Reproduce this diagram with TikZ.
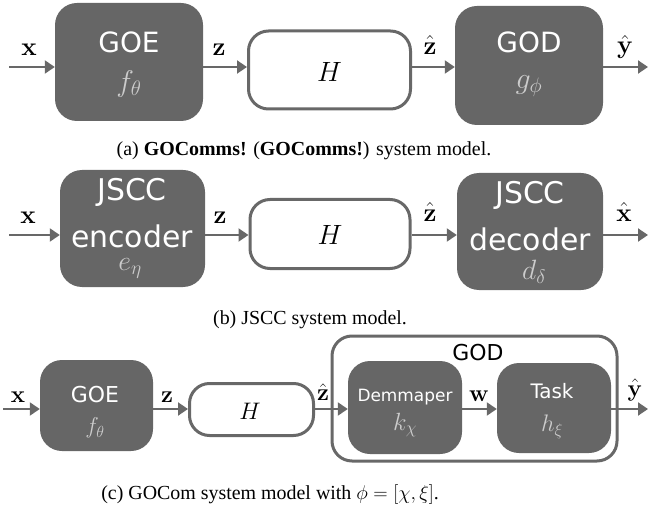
\RequirePackage{fix-cm}
\documentclass[tikz,border=0pt]{standalone}
\usepackage[no-math]{fontspec}
\setmainfont{Liberation Serif}
\newfontfamily\boxfont{DejaVu Sans}
\usetikzlibrary{arrows.meta}
\definecolor{boxgray}{HTML}{666666}
\definecolor{linegray}{HTML}{686868}
\definecolor{lightmath}{HTML}{CCCCCC}
\newcommand{\fs}[1]{\fontsize{#1}{#1}\selectfont}
\begin{document}
\begin{tikzpicture}[x=1bp,y=-1bp,
  blk/.style={fill=boxgray, draw=none, rounded corners=22bp, inner sep=0pt},
  chan/.style={draw=linegray, line width=3bp, fill=white, rounded corners=20bp, inner sep=0pt},
  grp/.style={draw=linegray, line width=3bp, rounded corners=20bp, inner sep=0pt},
  arr/.style={draw=linegray, line width=2bp, -{Triangle[length=10bp,width=13bp]}},
  btxt/.style={text=white, inner sep=0pt},
  mtxt/.style={text=lightmath, inner sep=0pt},
  lbl/.style={inner sep=0pt},
  captxt/.style={inner sep=0pt, font=\fs{20}},
]
\useasboundingbox (0,0) rectangle (649,514);

% ---------------- (a) ----------------
\node[blk, minimum width=148bp, minimum height=118bp] (goeA) at (129,62) {};
\node[chan, minimum width=162bp, minimum height=78bp] (chA) at (329.5,70) {};
\node[blk, minimum width=148bp, minimum height=119bp] (godA) at (529,65.5) {};
\coordinate (inA) at (9,67);
\coordinate (outA) at (648,67);
\draw[arr] (inA) -- (goeA.west |- inA);
\draw[arr] (goeA.east |- inA) -- (chA.west |- inA);
\draw[arr] (chA.east |- inA) -- (godA.west |- inA);
\draw[arr] (godA.east |- inA) -- (outA);
\node[btxt, font={\boxfont\fs{28}}] (goeAt) at (129,42) {GOE};
\node[mtxt, font=\fs{30}] (goeAm) at (129,84) {$f_\theta$};
\node[lbl, font=\fs{28}] (chAm) at (329.5,72) {$H$};
\node[btxt, font={\boxfont\fs{28}}] (godAt) at (529,42) {GOD};
\node[mtxt, font=\fs{30}] (godAm) at (529,86) {$g_\phi$};
\node[lbl, font=\fs{26}] (lxA) at (29,50) {$\mathbf{x}$};
\node[lbl, font=\fs{26}] (lzA) at (219,50) {$\mathbf{z}$};
\node[lbl, font=\fs{26}] (lzhA) at (430,45) {$\hat{\mathbf{z}}$};
\node[lbl, font=\fs{26}] (lyA) at (625,47) {$\hat{\mathbf{y}}$};
\node[captxt] (capA) at (304,151) {(a) \textbf{GOComms!} (\textbf{GOComms!}) system model.};

% ---------------- (b) ----------------
\node[blk, minimum width=145bp, minimum height=117bp] (encB) at (132.5,228.5) {};
\node[chan, minimum width=160bp, minimum height=69bp] (chB) at (330,234) {};
\node[blk, minimum width=146bp, minimum height=117bp] (decB) at (530,231.5) {};
\coordinate (inB) at (9,235);
\coordinate (outB) at (648,235);
\draw[arr] (inB) -- (encB.west |- inB);
\draw[arr] (encB.east |- inB) -- (chB.west |- inB);
\draw[arr] (chB.east |- inB) -- (decB.west |- inB);
\draw[arr] (decB.east |- inB) -- (outB);
\node[btxt, font={\boxfont\fs{30}}] (encBt1) at (132,192) {JSCC};
\node[btxt, font={\boxfont\fs{30}}] (encBt2) at (132,236) {encoder};
\node[mtxt, font=\fs{28}] (encBm) at (130,268) {$e_\eta$};
\node[lbl, font=\fs{28}] (chBm) at (330,235) {$H$};
\node[btxt, font={\boxfont\fs{30}}] (decBt1) at (530,195) {JSCC};
\node[btxt, font={\boxfont\fs{30}}] (decBt2) at (530,239) {decoder};
\node[mtxt, font=\fs{28}] (decBm) at (534,272) {$d_\delta$};
\node[lbl, font=\fs{26}] (lxB) at (28,218) {$\mathbf{x}$};
\node[lbl, font=\fs{26}] (lzB) at (220,218) {$\mathbf{z}$};
\node[lbl, font=\fs{26}] (lzhB) at (430,212) {$\hat{\mathbf{z}}$};
\node[lbl, font=\fs{26}] (lxhB) at (624,212) {$\hat{\mathbf{x}}$};
\node[captxt] (capB) at (310,320) {(b) JSCC system model.};

% ---------------- (c) ----------------
\node[grp, minimum width=285bp, minimum height=125bp] (godC) at (474.5,398.5) {};
\node[blk, minimum width=113bp, minimum height=91bp] (goeC) at (96.5,405.5) {};
\node[chan, minimum width=124bp, minimum height=52bp] (chC) at (251.5,409.5) {};
\node[blk, minimum width=114bp, minimum height=93bp] (demC) at (405,407.5) {};
\node[blk, minimum width=114bp, minimum height=90bp] (taskC) at (554,408) {};
\coordinate (inC) at (3,409);
\coordinate (outC) at (648,409);
\draw[arr] (inC) -- (goeC.west |- inC);
\draw[arr] (goeC.east |- inC) -- (chC.west |- inC);
\draw[arr] (chC.east |- inC) -- (demC.west |- inC);
\draw[arr] (demC.east |- inC) -- (taskC.west |- inC);
\draw[arr] (taskC.east |- inC) -- (outC);
\node[lbl, font={\boxfont\fs{22}}] (godCt) at (478,353) {GOD};
\node[btxt, font={\boxfont\fs{22}}] (goeCt) at (95,395) {GOE};
\node[mtxt, font=\fs{23}] (goeCm) at (95,428) {$f_\theta$};
\node[lbl, font=\fs{24}] (chCm) at (250,411) {$H$};
\node[btxt, font={\boxfont\fs{17}}] (demCt) at (405,397) {Demmaper};
\node[mtxt, font=\fs{25}] (demCm) at (405,425) {$k_\chi$};
\node[btxt, font={\boxfont\fs{20}}] (taskCt) at (552,391) {Task};
\node[mtxt, font=\fs{24}] (taskCm) at (552,427) {$h_\xi$};
\node[lbl, font=\fs{24}] (lxC) at (18,397) {$\mathbf{x}$};
\node[lbl, font=\fs{24}] (lzC) at (167,397) {$\mathbf{z}$};
\node[lbl, font=\fs{24}] (lzhC) at (323,392) {$\hat{\mathbf{z}}$};
\node[lbl, font=\fs{24}] (lwC) at (479,396) {$\mathbf{w}$};
\node[lbl, font=\fs{24}] (lyC) at (635,390) {$\hat{\mathbf{y}}$};
\node[captxt] (capC) at (270,495) {(c) GOCom system model with $\phi=[\chi,\xi]$.};
\end{tikzpicture}
\end{document}
